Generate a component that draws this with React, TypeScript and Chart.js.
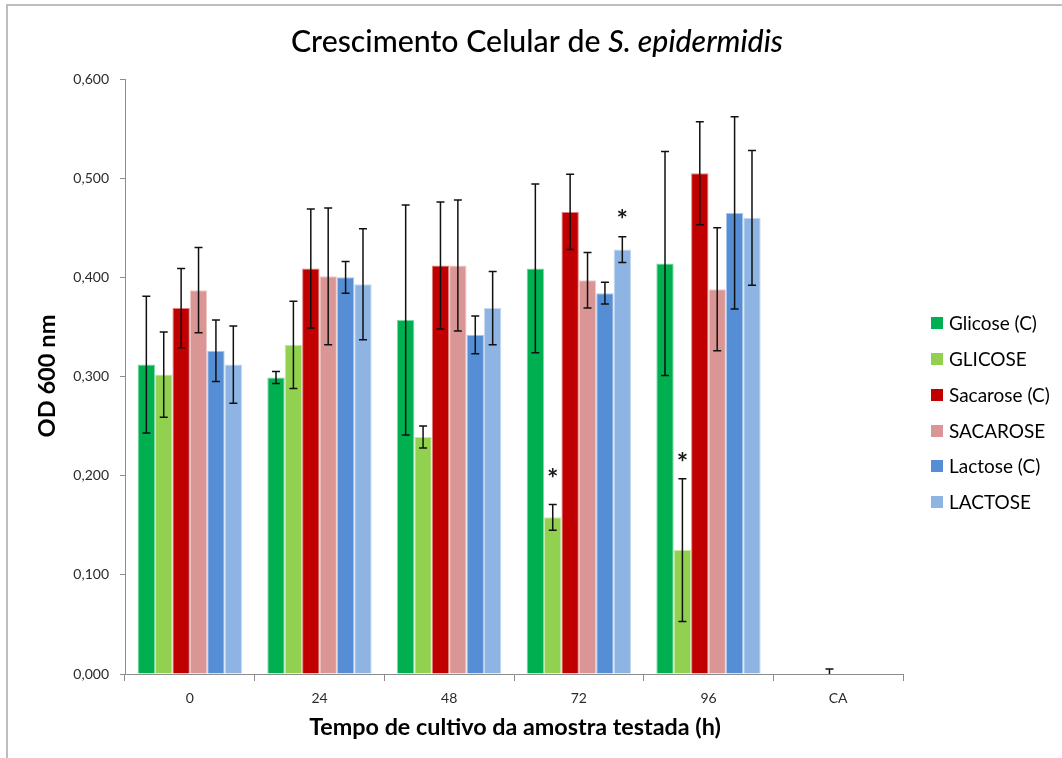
import React, { useEffect, useRef } from "react";
import { Chart, registerables } from "chart.js";

Chart.register(...registerables);

const categories = ["0", "24", "48", "72", "96", "CA"];
const seriesNames = ["Glicose (C)", "GLICOSE", "Sacarose (C)", "SACAROSE", "Lactose (C)", "LACTOSE"];
const seriesColors = ["#00B050", "#92D050", "#C00000", "#DA9694", "#558ED5", "#8EB4E3"];
const seriesBorders = ["#7FD8A7", "#C8E8A7", "#E08080", "#EDCBCA", "#AAC7EA", "#C7DAF1"];

const glicoseC = [0.312, 0.299, 0.357, 0.409, 0.414, 0];
const glicoseCErr = [0.069, 0.006, 0.116, 0.085, 0.113, 0];
const glicose = [0.302, 0.332, 0.239, 0.158, 0.125, 0];
const glicoseErr = [0.043, 0.044, 0.011, 0.013, 0.072, 0];
const sacaroseC = [0.369, 0.409, 0.412, 0.466, 0.505, 0];
const sacaroseCErr = [0.04, 0.06, 0.064, 0.038, 0.052, 0.005];
const sacarose = [0.387, 0.401, 0.412, 0.397, 0.388, 0];
const sacaroseErr = [0.043, 0.069, 0.066, 0.028, 0.062, 0];
const lactoseC = [0.326, 0.4, 0.342, 0.384, 0.465, 0];
const lactoseCErr = [0.031, 0.016, 0.019, 0.011, 0.097, 0];
const lactose = [0.312, 0.393, 0.369, 0.428, 0.46, 0];
const lactoseErr = [0.039, 0.056, 0.037, 0.013, 0.068, 0];

const seriesValues = [glicoseC, glicose, sacaroseC, sacarose, lactoseC, lactose];
const seriesErrors = [glicoseCErr, glicoseErr, sacaroseCErr, sacaroseErr, lactoseCErr, lactoseErr];

// significance markers (*)
const asteriskSeries = [1, 5, 1];
const asteriskCategory = [3, 3, 4];
const asteriskValue = [0.203, 0.464, 0.219];

const titleNormal = "Crescimento Celular de ";
const titleItalic = "S. epidermidis";
const yTitle = "OD 600 nm";
const xTitle = "Tempo de cultivo da amostra testada (h)";

const FAMILY = "Lato, 'Open Sans', sans-serif";

function fitSize(ctx: CanvasRenderingContext2D, text: string, weight: string, style: string, target: number) {
  ctx.font = `${style} ${weight} 100px ${FAMILY}`;
  const w = ctx.measureText(text).width;
  return (100 * target) / w;
}

const decorPlugin = {
  id: "decor",
  beforeDraw(chart: any) {
    const ctx = chart.ctx as CanvasRenderingContext2D;
    ctx.save();
    ctx.fillStyle = "#ffffff";
    ctx.fillRect(0, 0, chart.width, chart.height);
    ctx.strokeStyle = "#BDBDBD";
    ctx.lineWidth = 2;
    ctx.beginPath();
    ctx.moveTo(7, chart.height);
    ctx.lineTo(7, 5);
    ctx.lineTo(chart.width, 5);
    ctx.stroke();
    ctx.restore();
  },
  afterDatasetsDraw(chart: any) {
    const ctx = chart.ctx as CanvasRenderingContext2D;
    const yScale = chart.scales.y;
    const area = chart.chartArea;
    ctx.save();
    ctx.beginPath();
    ctx.rect(area.left, area.top - 60, area.right - area.left, area.bottom - area.top + 60);
    ctx.clip();
    ctx.strokeStyle = "#111111";
    ctx.lineWidth = 1.5;
    seriesValues.forEach((vals, si) => {
      const meta = chart.getDatasetMeta(si);
      vals.forEach((v, ci) => {
        const e = seriesErrors[si][ci];
        if (!e) return;
        const x = meta.data[ci].x;
        const yt = yScale.getPixelForValue(v + e);
        const yb = yScale.getPixelForValue(v - e);
        ctx.beginPath();
        ctx.moveTo(x, yt);
        ctx.lineTo(x, yb);
        ctx.moveTo(x - 4, yt);
        ctx.lineTo(x + 4, yt);
        ctx.moveTo(x - 4, yb);
        ctx.lineTo(x + 4, yb);
        ctx.stroke();
      });
    });
    ctx.restore();

    // asterisks
    ctx.save();
    ctx.fillStyle = "#1a1a1a";
    ctx.font = `normal 700 27px ${FAMILY}`;
    ctx.textAlign = "center";
    ctx.textBaseline = "alphabetic";
    asteriskSeries.forEach((si, k) => {
      const meta = chart.getDatasetMeta(si);
      const x = meta.data[asteriskCategory[k]].x;
      const y = yScale.getPixelForValue(asteriskValue[k]);
      ctx.fillText("*", x, y + 15);
    });
    ctx.restore();
  },
  afterDraw(chart: any) {
    const ctx = chart.ctx as CanvasRenderingContext2D;
    ctx.save();
    ctx.fillStyle = "#000000";
    // title
    ctx.font = `normal 500 100px ${FAMILY}`;
    const w1 = ctx.measureText(titleNormal).width;
    ctx.font = `italic 500 100px ${FAMILY}`;
    const w2 = ctx.measureText(titleItalic).width;
    const tSize = (100 * 492) / (w1 + w2);
    const startX = 537 - 246;
    ctx.textBaseline = "alphabetic";
    ctx.textAlign = "left";
    ctx.font = `normal 500 ${tSize}px ${FAMILY}`;
    ctx.fillText(titleNormal, startX, 52);
    ctx.font = `italic 500 ${tSize}px ${FAMILY}`;
    ctx.fillText(titleItalic, startX + (w1 * tSize) / 100, 52);

    // x title
    const xs = fitSize(ctx, xTitle, "700", "normal", 412);
    ctx.font = `normal 700 ${xs}px ${FAMILY}`;
    ctx.textAlign = "center";
    ctx.fillText(xTitle, 515, 735);

    // y title
    const ys = fitSize(ctx, yTitle, "700", "normal", 123);
    ctx.save();
    ctx.translate(55, 376);
    ctx.rotate(-Math.PI / 2);
    ctx.font = `normal 700 ${ys}px ${FAMILY}`;
    ctx.textAlign = "center";
    ctx.fillText(yTitle, 0, 0);
    ctx.restore();

    // legend
    const ls = fitSize(ctx, seriesNames[0], "400", "normal", 88);
    const legendY = [323, 359, 395, 431, 466, 502];
    ctx.textAlign = "left";
    ctx.textBaseline = "middle";
    ctx.font = `normal 400 ${ls}px ${FAMILY}`;
    seriesNames.forEach((name, i) => {
      ctx.fillStyle = seriesColors[i];
      ctx.fillRect(931, legendY[i] - 6, 12, 12);
      ctx.fillStyle = "#000000";
      ctx.fillText(name, 949, legendY[i] + 1);
    });
    ctx.restore();
  },
};

export default function App() {
  const ref = useRef<HTMLCanvasElement | null>(null);
  useEffect(() => {
    document.body.style.margin = "0";
    const canvas = ref.current;
    if (!canvas) return;
    const chart = new Chart(canvas, {
      type: "bar",
      data: {
        labels: categories,
        datasets: seriesNames.map((name, i) => ({
          label: name,
          data: seriesValues[i],
          backgroundColor: seriesColors[i],
          borderColor: seriesBorders[i],
          borderWidth: 1,
          categoryPercentage: 0.805,
          barPercentage: 1.0,
        })),
      },
      options: {
        responsive: false,
        animation: false,
        devicePixelRatio: 1,
        layout: { padding: { left: 0, top: 79, right: 159, bottom: 0 } },
        plugins: {
          legend: { display: false },
          title: { display: false },
          tooltip: { enabled: false },
        },
        scales: {
          x: {
            afterFit: (s: any) => {
              s.height = 84;
            },
            grid: {
              display: true,
              drawOnChartArea: false,
              drawTicks: true,
              tickLength: 7,
              offset: true,
              color: "#8C8C8C",
            },
            border: { display: true, color: "#8C8C8C", width: 1 },
            ticks: {
              padding: 9,
              color: "#2b2b2b",
              font: { family: FAMILY, size: 14 },
            },
          },
          y: {
            min: 0,
            max: 0.6,
            afterFit: (s: any) => {
              s.width = 125;
            },
            grid: {
              display: true,
              drawOnChartArea: false,
              drawTicks: true,
              tickLength: 5,
              color: "#8C8C8C",
            },
            border: { display: true, color: "#8C8C8C", width: 1 },
            ticks: {
              stepSize: 0.1,
              padding: 11,
              color: "#2b2b2b",
              font: { family: FAMILY, size: 14 },
              callback: (v: any) => Number(v).toFixed(3).replace(".", ","),
            },
          },
        },
      },
      plugins: [decorPlugin],
    });
    return () => chart.destroy();
  }, []);
  return (
    <div style={{ width: 1062, height: 758 }}>
      <canvas ref={ref} width={1062} height={758} style={{ display: "block" }} />
    </div>
  );
}
